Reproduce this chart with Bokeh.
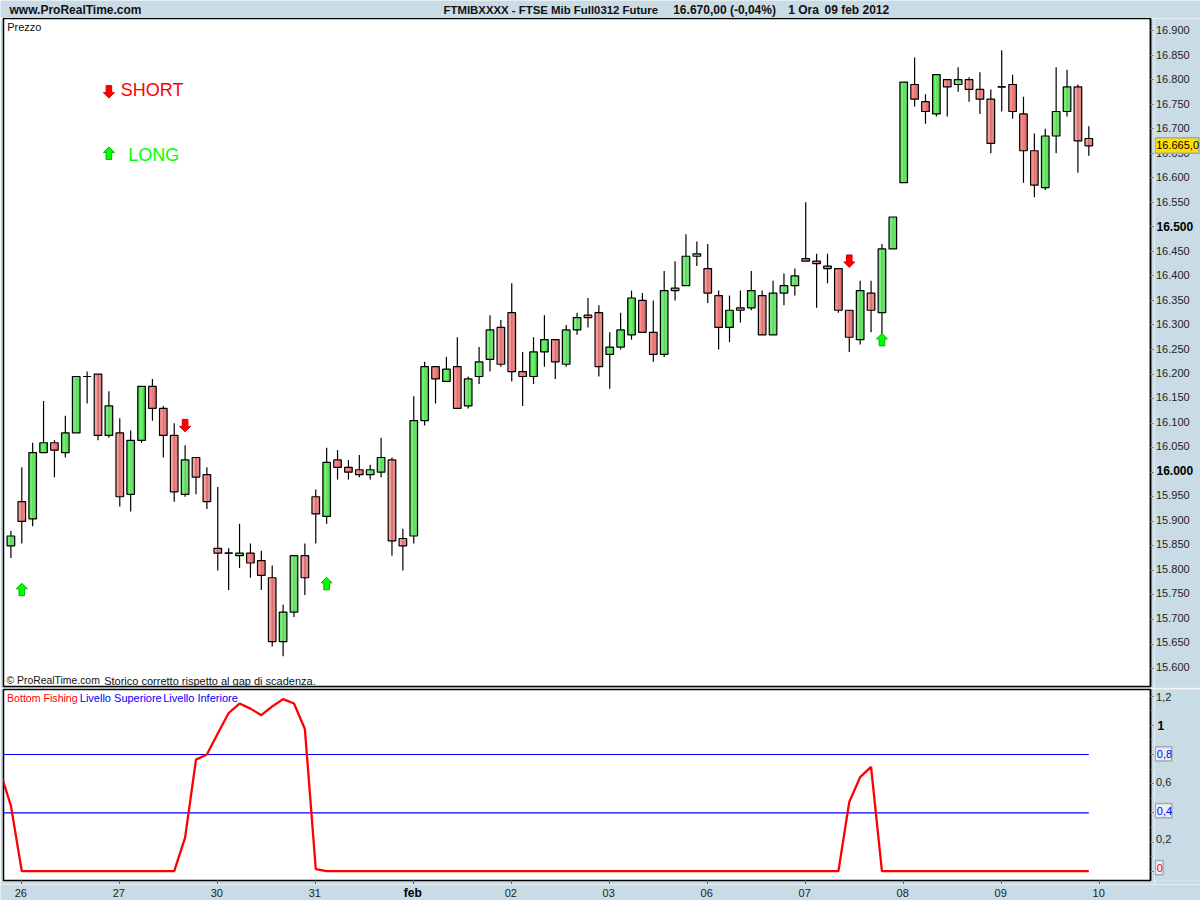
from bokeh.core.properties import value
from bokeh.embed import file_html
from bokeh.resources import INLINE
from bokeh.plotting import figure
from bokeh.layouts import column, row
from bokeh.models import Range1d, LinearAxis, FixedTicker

open_ = [15850,15940,15905,16040,16060,16040,16080,16195,16200,16075,16080,15955,16065,16175,16130,16075,15955,16030,15995,15845,
         15835,15830,15835,15820,15785,15655,15715,15830,15950,15910,16025,16010,16005,15995,16000,16025,15865,15870,16105,16215,
         16185,16215,16135,16195,16230,16295,16325,16205,16195,16245,16270,16220,16290,16320,16325,16240,16255,16280,16350,16285,
         16240,16370,16380,16440,16415,16360,16295,16335,16335,16360,16280,16365,16380,16435,16430,16420,16415,16330,16270,16365,
         16325,16455,16590,16790,16755,16730,16800,16790,16800,16780,16760,16785,16790,16730,16655,16580,16685,16735,16785,16680]
high_ = [15880,16010,16060,16145,16065,16115,16195,16205,16200,16165,16110,16085,16175,16190,16135,16100,16055,16030,16010,15970,
         15845,15895,15855,15840,15810,15730,15830,15855,15965,16050,16045,16025,16035,16015,16070,16030,15885,16155,16225,16215,
         16235,16275,16195,16255,16320,16310,16385,16245,16275,16320,16270,16300,16325,16355,16340,16285,16325,16370,16365,16350,
         16410,16430,16485,16470,16465,16370,16360,16370,16410,16370,16390,16405,16415,16550,16445,16445,16415,16330,16390,16390,
         16465,16520,16795,16845,16770,16810,16800,16825,16805,16815,16780,16860,16810,16765,16690,16700,16825,16820,16790,16705]
low_ = [15825,15855,15890,16040,15990,16030,16080,16140,16065,16070,15930,15920,16060,16105,16030,15940,15950,15955,15925,15800,
        15760,15805,15785,15760,15645,15625,15705,15750,15855,15895,15985,15985,15990,15985,15990,15830,15800,15855,16095,16140,
        16185,16130,16130,16180,16205,16215,16185,16135,16180,16215,16190,16215,16280,16295,16195,16170,16250,16270,16285,16225,
        16235,16350,16380,16420,16345,16250,16265,16305,16330,16280,16280,16340,16360,16430,16335,16385,16325,16245,16260,16285,
        16280,16455,16590,16745,16710,16725,16725,16775,16755,16730,16650,16735,16720,16590,16560,16575,16650,16725,16610,16645]
close_ = [15870,15900,16040,16060,16045,16080,16195,16195,16075,16135,15950,16065,16175,16130,16075,15960,16025,15990,15940,15835,
          15835,15835,15815,15790,15655,15715,15830,15785,15915,16020,16010,16000,15995,16005,16030,15860,15850,16105,16215,16190,
          16210,16130,16190,16225,16290,16220,16205,16195,16245,16270,16225,16290,16315,16315,16215,16255,16290,16355,16285,16240,
          16370,16375,16440,16445,16365,16295,16330,16330,16370,16280,16365,16380,16400,16430,16425,16415,16330,16275,16370,16330,
          16455,16520,16795,16760,16735,16810,16785,16800,16780,16760,16670,16785,16735,16655,16585,16685,16735,16785,16675,16665]

# Indicator values for bars -1 to 99
bottom_fishing = [0.685,0.45,0,0,0,0,0,0,0,0,0,0,0,0,0,0,0,0.23,0.765,0.80,0.945,1.085,1.15,1.115,1.07,1.13,1.18,1.15,0.975,0.015,
                  0,0,0,0,0,0,0,0,0,0,0,0,0,0,0,0,0,0,0,0,0,0,0,0,0,0,0,0,0,0,0,0,0,0,0,0,0,0,0,0,0,0,0,0,0,0,0,0,
                  0.475,0.645,0.715,0,0,0,0,0,0,0,0,0,0,0,0,0,0,0,0,0,0,0,0]
upper_level = 0.8
lower_level = 0.4
last_price = 16665

long_bars = [1, 29, 80, 9]
long_prices = [15761, 15773, 16270, 16650]
short_bars = [16, 77, 9]
short_prices = [16095, 16430, 16775]

price_ticks = [15600,15650,15700,15750,15800,15850,15900,15950,16000,16050,16100,16150,16200,16250,16300,16350,
               16400,16450,16500,16550,16600,16650,16700,16750,16800,16850,16900]
price_labels = ["15.600","15.650","15.700","15.750","15.800","15.850","15.900","15.950","16.000","16.050","16.100","16.150",
                "16.200","16.250","16.300","16.350","16.400","16.450","16.500","16.550","16.600","16.650","16.700","16.750",
                "16.800","16.850","16.900"]
bold_price_ticks = [16000, 16500]
ind_ticks = [0, 0.2, 0.4, 0.6, 0.8, 1, 1.2]
ind_minor = [0.1, 0.3, 0.5, 0.7, 0.9, 1.1]
plain_ind_ticks = [0.2, 0.6, 1.2]
plain_ind_labels = ["0,2", "0,6", "1,2"]
day_bars = [1, 10, 19, 28, 37, 46, 55, 64, 73, 82, 91, 100]
day_labels = ["26", "27", "30", "31", "feb", "02", "03", "06", "07", "08", "09", "10"]

BG = "#c9dbe5"
FONT = "Liberation Sans"
BAR0, BARW = 10.4, 10.888        # page px of bar 0, px per bar
PX0, PPP = 30.0, 0.4908          # page y of 16900, px per point
IY0, IPP = 870.7, 145.8          # page y of indicator 0, px per unit


def bx(px):
    return (px - BAR0) / BARW


def py(px):
    return 16900 - (px - PX0) / PPP


def iy(px):
    return (IY0 - px) / IPP


def txt(f, x, y, text, size="11px", color="#111111", style="normal", align="left"):
    f.text([x], [y], text=[text], text_font=value(FONT), text_font_size=value(size), text_color=color,
           text_font_style=style, text_align=align, text_baseline="middle")


def panel(w, h, yr, top, bottom):
    f = figure(width=w, height=h, x_range=Range1d(bx(3), bx(1150)), y_range=Range1d(*yr),
               output_backend="svg", toolbar_location=None, x_axis_type=None, y_axis_location="right",
               min_border_left=3, min_border_right=4, min_border_top=top, min_border_bottom=bottom,
               background_fill_color="white", border_fill_color=BG)
    f.grid.visible = False
    f.outline_line_color = "black"
    f.outline_line_width = 1.5
    ax = f.yaxis[0]
    ax.axis_line_color = "black"
    ax.axis_line_width = 1.5
    ax.major_tick_line_color = "#7d8d97"
    ax.minor_tick_line_color = "#7d8d97"
    ax.major_tick_out = 4
    ax.major_tick_in = 0
    ax.minor_tick_in = 0
    ax.minor_tick_out = 2
    ax.major_label_standoff = 0
    ax.major_label_text_font_size = "0px"
    return f


def strip(w, h, xr, yr):
    f = figure(width=w, height=h, x_range=Range1d(*xr), y_range=Range1d(*yr), output_backend="svg",
               toolbar_location=None, x_axis_type=None, y_axis_type=None, min_border=0,
               min_border_left=0, min_border_right=0, min_border_top=0, min_border_bottom=0,
               background_fill_color=BG, border_fill_color=BG, outline_line_color=None)
    f.grid.visible = False
    return f


# ---------- header strip ----------
head = strip(1200, 18, (0, 1200), (18, 0))
txt(head, 9, 9, "www.ProRealTime.com", size="12px", style="bold")
txt(head, 443, 9, "FTMIBXXXX - FTSE Mib Full0312 Future", size="11.4px", style="bold")
txt(head, 672.7, 9, "16.670,00 (-0,04%)", size="12px", style="bold")
txt(head, 787.7, 9, "1 Ora", size="12px", style="bold")
txt(head, 824, 9, "09 feb 2012", size="12px", style="bold")

# ---------- price panel ----------
p1 = panel(1154, 670, (py(686), py(18)), 0, 2)
ax = p1.yaxis[0]
ax.ticker = FixedTicker(ticks=price_ticks)
ax.major_label_overrides = {t: "" for t in price_ticks}
ax.minor_tick_line_color = None

bars = list(range(len(open_)))
p1.segment(bars, high_, bars, low_, line_color="black", line_width=1.2)

GREEN = ["#48d048", "#5ae85a", "#68f668", "#68f468", "#5ee85e", "#54dc54", "#48cc48"]
RED = ["#ff9090", "#fd8a8a", "#f88484", "#f27e7e", "#ea7878", "#e27272", "#da6c6c"]
up = [i for i in bars if close_[i] >= open_[i]]
down = [i for i in bars if close_[i] < open_[i]]
for idx, shades in ((up, GREEN), (down, RED)):
    tops = [max(open_[i], close_[i]) for i in idx]
    bots = [min(open_[i], close_[i]) for i in idx]
    for j, c in enumerate(shades):
        xs = [i + (j - 3) / BARW for i in idx]
        p1.vbar(x=xs, top=tops, bottom=bots, width=1.15 / BARW, fill_color=c, line_color=None)
    p1.vbar(x=idx, top=tops, bottom=bots, width=7.6 / BARW, fill_color=None, line_color="black", line_width=1.2)

flat = [i for i in bars if close_[i] == open_[i]]
p1.segment([i - 4 / BARW for i in flat], [open_[i] for i in flat], [i + 4 / BARW for i in flat],
           [open_[i] for i in flat], line_color="black", line_width=1.2)


def arrow(bar, price, sign):
    # arrow outline in px offsets around its centre; sign +1 points up, -1 points down
    pts = [(0, 6.2), (5.5, 0.8), (2.8, 0.8), (2.8, -6.2), (-2.8, -6.2), (-2.8, 0.8), (-5.5, 0.8)]
    return ([bar + dx / BARW for dx, dy in pts], [price + sign * dy / PPP for dx, dy in pts])


long_shapes = [arrow(b, v, 1) for b, v in zip(long_bars, long_prices)]
short_shapes = [arrow(b, v, -1) for b, v in zip(short_bars, short_prices)]
p1.patches([a[0] for a in long_shapes], [a[1] for a in long_shapes], fill_color="#00ff00", line_color="#00b400", line_width=1)
p1.patches([a[0] for a in short_shapes], [a[1] for a in short_shapes], fill_color="#ff0000", line_color="#cc0000", line_width=1)

txt(p1, bx(6.7), py(26), "Prezzo")
txt(p1, bx(6), py(680), "\u00a9 ProRealTime.com", size="10.4px")
txt(p1, bx(103.7), py(680), "Storico corretto rispetto al gap di scadenza.")
txt(p1, bx(120.3), py(89), "SHORT", size="18px", color="#ff0000")
txt(p1, bx(127.7), py(154), "LONG", size="18px", color="#00ff00")

# ---------- price scale labels ----------
r1 = strip(46, 670, (1154, 1200), (py(688), py(18)))
for t, s in zip(price_ticks, price_labels):
    bold = t in bold_price_ticks
    txt(r1, 1156 if bold else 1155.5, t, s, size="12px" if bold else "11px", style="bold" if bold else "normal",
        color="black" if bold else "#222222")
r1.quad(left=[1154.6], right=[1198.5], top=[last_price + 7.8 / PPP], bottom=[last_price - 7.8 / PPP],
        fill_color="#ffdf00", line_color="#a0acb2", line_width=1.5)
txt(r1, 1155.7, last_price, "16.665,0", color="black")

# ---------- indicator panel ----------
p2 = panel(1154, 196, (iy(880), iy(689)), 1, 4)
ax2 = p2.yaxis[0]
ax2.ticker = FixedTicker(ticks=ind_ticks, minor_ticks=ind_minor)
ax2.major_label_overrides = {t: "" for t in ind_ticks}

xax = LinearAxis(ticker=FixedTicker(ticks=day_bars), major_label_overrides={b: "" for b in day_bars},
                 major_label_text_font_size="0px", major_tick_out=4, major_tick_in=0, major_label_standoff=0,
                 axis_line_color="black", major_tick_line_color="#5a6a74", minor_tick_line_color=None)
p2.add_layout(xax, "below")

p2.line([-1, 99], [upper_level, upper_level], line_color="#0000ff", line_width=1.1)
p2.line([-1, 99], [lower_level, lower_level], line_color="#0000ff", line_width=1.1)
p2.line(list(range(-1, 100)), bottom_fishing, line_color="#ff0000", line_width=2.3)

txt(p2, bx(6.5), iy(697), "Bottom Fishing", size="10.6px", color="#ff0000")
txt(p2, bx(79.3), iy(697), "Livello Superiore", color="#0000ff")
txt(p2, bx(162.7), iy(697), "Livello Inferiore", color="#0000ff")

# ---------- indicator scale labels ----------
r2 = strip(46, 196, (1154, 1200), (iy(884), iy(688)))
for t, s in zip(plain_ind_ticks, plain_ind_labels):
    txt(r2, 1155.5, t, s, color="#222222")
txt(r2, 1157, 1.0, "1", size="12px", style="bold", color="black")
for v, s, c, right in ((upper_level, "0,8", "#0000ff", 1171.3), (lower_level, "0,4", "#0000ff", 1171.3), (0.0, "0", "#ff0000", 1162.7)):
    r2.quad(left=[1154.8], right=[right], top=[v + 7.3 / IPP], bottom=[v - 7.3 / IPP],
            fill_color="#e9f0f4", line_color="#a0acb2", line_width=1.5)
    txt(r2, 1156.3, v, s, color=c)

# ---------- date labels ----------
foot = strip(1200, 16, (bx(0), bx(1200)), (900, 884))
for b, s in zip(day_bars, day_labels):
    bold = s == "feb"
    txt(foot, b - 1 / BARW, 892, s, size="12px" if bold else "11px", style="bold" if bold else "normal",
        align="center", color="black" if bold else "#222222")

layout = column(head, row(p1, r1, spacing=0), row(p2, r2, spacing=0), foot, spacing=0)
open("out.html", "w").write(file_html(layout, INLINE))
